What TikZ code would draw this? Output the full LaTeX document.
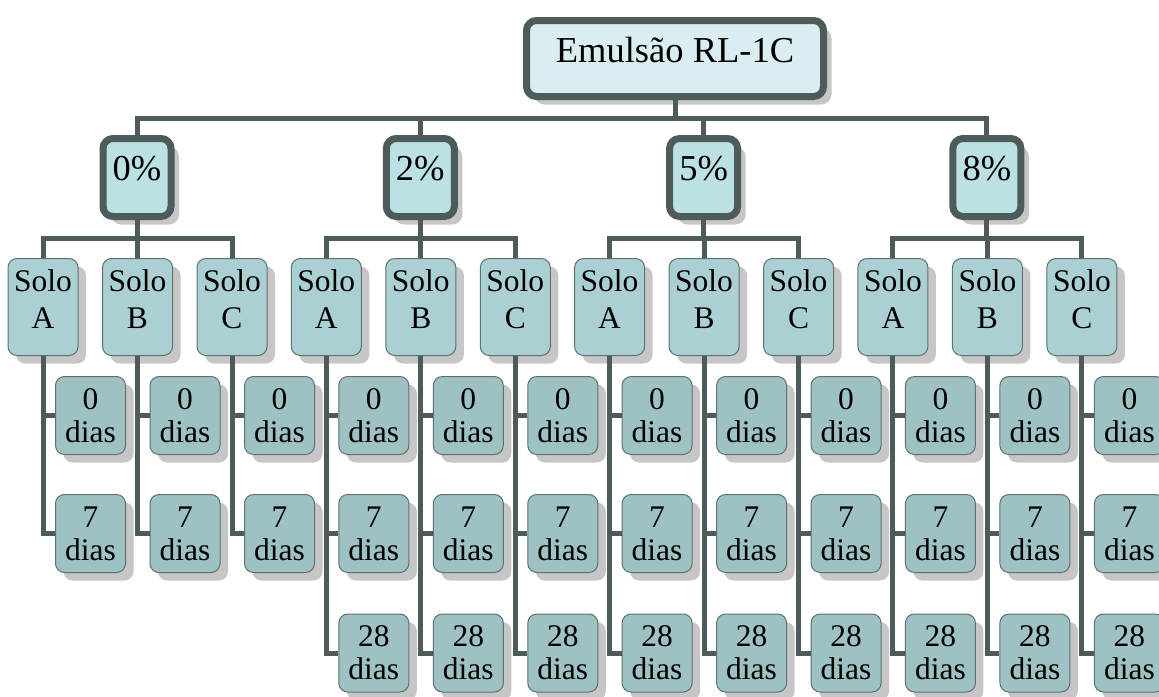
\documentclass[tikz,border=0pt]{standalone}
\usepackage{fontspec}
\setmainfont{Liberation Serif}
\usetikzlibrary{shadows}
\definecolor{LinkGray}{HTML}{4D5B5B}
\definecolor{EdgeGray}{HTML}{5F7070}
\definecolor{ShadowGray}{HTML}{C6C6C6}
\definecolor{TopFill}{HTML}{DAEEF1}
\definecolor{PctFill}{HTML}{BCE1E4}
\definecolor{SoloFill}{HTML}{ABD0D3}
\definecolor{DayFill}{HTML}{9EC2C4}
\tikzset{
  boxshadow/.style={drop shadow={shadow xshift=8pt, shadow yshift=-8pt, fill=ShadowGray, opacity=1}},
  topbox/.style={boxshadow, draw=LinkGray, line width=7pt, rounded corners=10pt, fill=TopFill,
    minimum width=297pt, inner ysep=0pt, text height=41.5pt, text depth=34.5pt,
    font=\fontsize{36.5}{40}\selectfont},
  pctbox/.style={boxshadow, draw=LinkGray, line width=7pt, rounded corners=10pt, fill=PctFill,
    minimum width=68pt, inner ysep=0pt, text height=41.5pt, text depth=36.5pt,
    font=\fontsize{36.5}{40}\selectfont},
  solobox/.style={boxshadow, draw=EdgeGray, line width=1pt, rounded corners=9pt, fill=SoloFill,
    minimum width=70pt, minimum height=97pt, align=center, text depth=16pt,
    font=\fontsize{31.5}{37}\selectfont},
  daybox/.style={boxshadow, draw=EdgeGray, line width=1pt, rounded corners=9pt, fill=DayFill,
    minimum width=70pt, minimum height=78pt, inner ysep=0pt, align=center,
    font=\fontsize{31.5}{33}\selectfont},
  link/.style={draw=LinkGray, line width=5pt}
}

\begin{document}
\begin{tikzpicture}[x=1pt, y=-1pt]
  \useasboundingbox (0,0) rectangle (1159,696);
  \clip (0,0) rectangle (1159,696);

  \node[topbox] (top) at (675,58.5) {Emulsão RL-1C};

  % teor de emulsao
  \foreach \pc [count=\i from 0] in {0,2,5,8}
    \node[pctbox] (p\i) at (137+283.3*\i,177.5) {\pc\%};

  % solos e tempos de cura
  \foreach \i in {0,...,3}
    \foreach \s [count=\j from 0] in {A,B,C} {
      \node[solobox] (s\i\s) at (43+283.3*\i+94.5*\j,307) {Solo\\\s};
      \node[daybox] (d\i\s0) at (90.5+283.3*\i+94.5*\j,415.5) {0\\dias};
      \node[daybox] (d\i\s7) at (90.5+283.3*\i+94.5*\j,533.5) {7\\dias};
      \ifnum\i>0
        \node[daybox] (d\i\s28) at (90.5+283.3*\i+94.5*\j,653) {28\\dias};
      \fi
    }

  % ligacoes
  \foreach \i in {0,...,3} {
    \draw[link] (top.south) -- ++(0,18) -| (p\i.north);
    \foreach \s in {A,B,C} {
      \draw[link] (p\i.south) -- ++(0,18) -| (s\i\s.north);
      \draw[link] (s\i\s.south) |- (d\i\s0.west);
      \draw[link] (s\i\s.south) |- (d\i\s7.west);
      \ifnum\i>0
        \draw[link] (s\i\s.south) |- (d\i\s28.west);
      \fi
    }
  }
\end{tikzpicture}
\end{document}
